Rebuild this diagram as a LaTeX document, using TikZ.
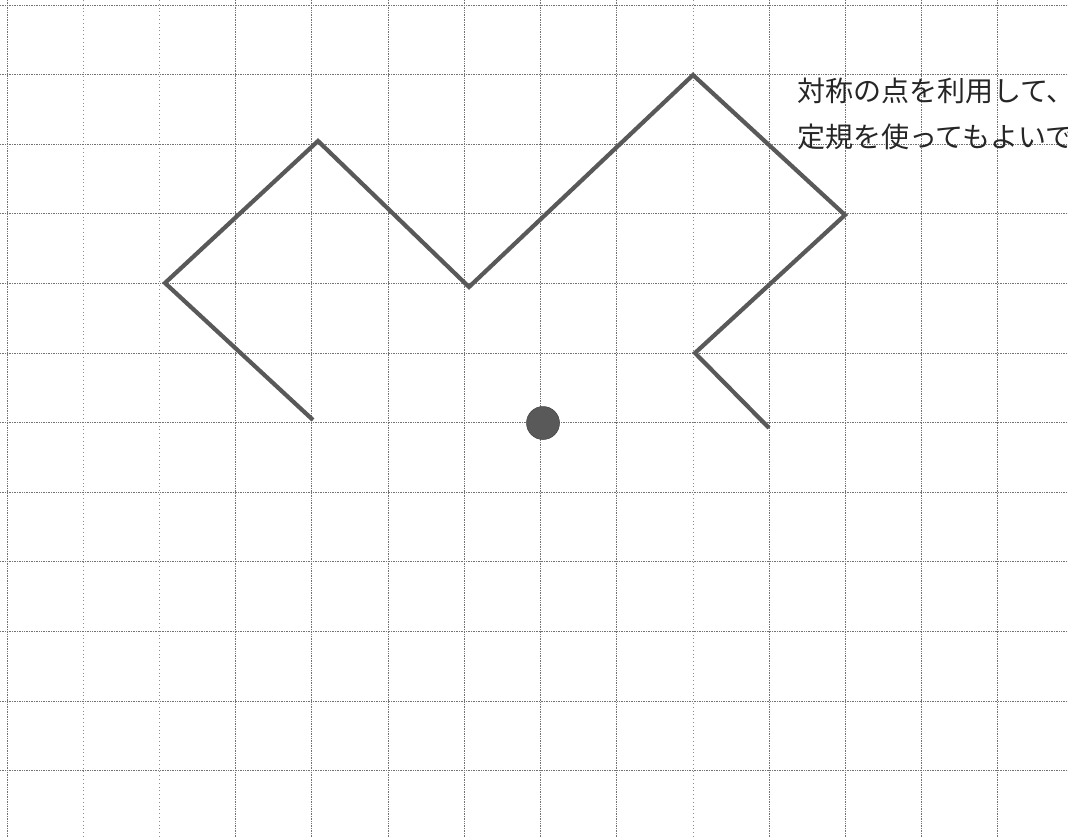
\documentclass[tikz,border=0pt]{standalone}
\usepackage{fontspec}
\newfontfamily\cjk{Noto Sans CJK JP}
\begin{document}
\begin{tikzpicture}[x=1pt,y=-1pt,
  gridline/.style={black!55, line width=0.7pt, densely dotted},
  faintline/.style={black!45, line width=0.6pt, dash pattern=on 0.8pt off 3pt},
  figline/.style={draw=black!65, line width=4.2pt, line join=miter, line cap=butt},
  dotmark/.style={circle, fill=black!65, draw=black!75, line width=0.5pt, minimum size=33pt, inner sep=0pt},
  note/.style={anchor=base west, inner sep=0pt, font=\cjk\fontsize{28}{28}\selectfont, text=black!85}]
\useasboundingbox (0,0) rectangle (1068,837);
\fill[white] (0,0) rectangle (1068,837);
\clip (0,0) rectangle (1068,837);
% vertical grid lines
\foreach \i in {0,3,4,5,6,7,8,10,11,12,13}{
  \draw[gridline] ({7+76.2*\i},0) -- ({7+76.2*\i},837);
}
\foreach \i in {1,2,9}{
  \draw[faintline] ({7+76.2*\i},0) -- ({7+76.2*\i},837);
}
% horizontal grid lines
\foreach \j in {0,...,11}{
  \draw[gridline] (0,{5+69.6*\j}) -- (1068,{5+69.6*\j});
}
% figure vertices
\coordinate (p1) at (313,420);
\coordinate (p2) at (165,283);
\coordinate (p3) at (318,141);
\coordinate (p4) at (469,287);
\coordinate (p5) at (693,75);
\coordinate (p6) at (845,215);
\coordinate (p7) at (695,353);
\coordinate (p8) at (769,428);
\draw[figline] (p1) -- (p2) -- (p3) -- (p4) -- (p5) -- (p6) -- (p7) -- (p8);
% centre of symmetry
\node[dotmark] (c) at (543,423) {};
% text
\node[note] (t1) at (797,102) {対称の点を利用して、};
\node[note] (t2) at (797,148) {定規を使ってもよいで};
\end{tikzpicture}
\end{document}
